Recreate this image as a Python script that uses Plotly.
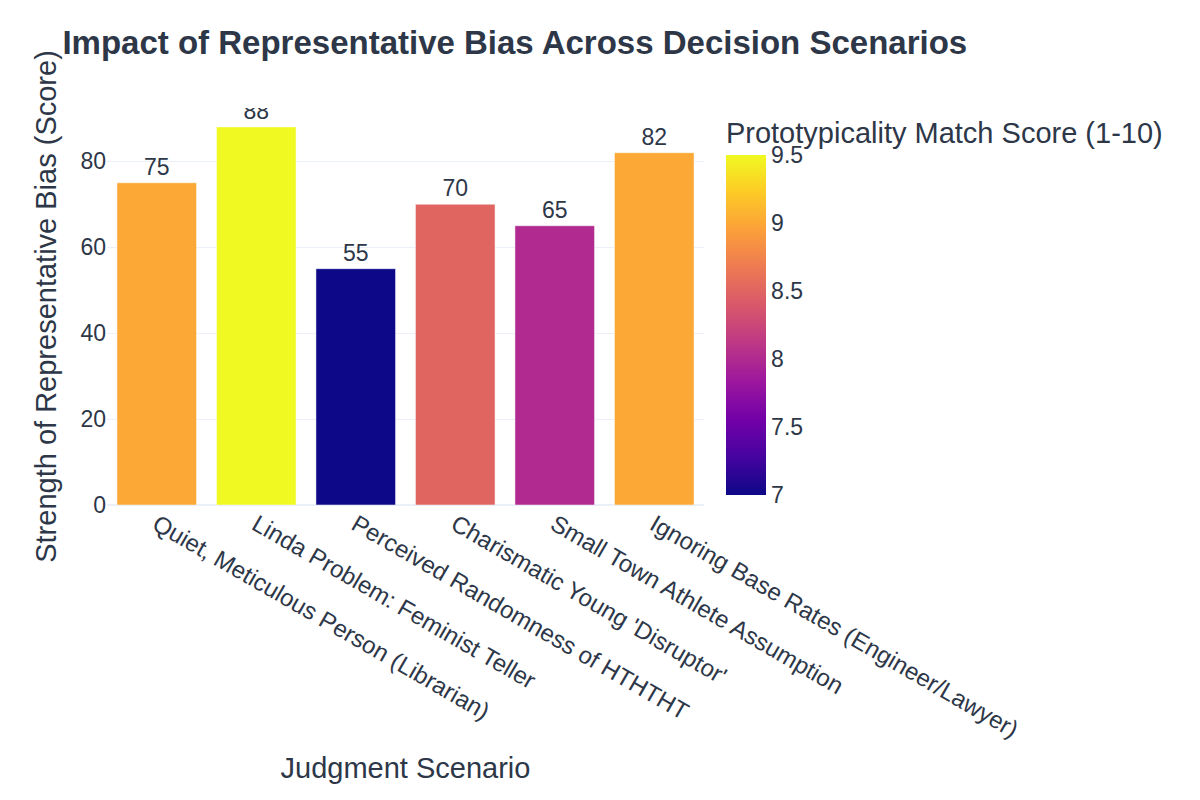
import plotly.graph_objects as go

scenarios = [
    "Quiet, Meticulous Person (Librarian)",
    "Linda Problem: Feminist Teller",
    "Perceived Randomness of HTHTHT",
    "Charismatic Young 'Disruptor'",
    "Small Town Athlete Assumption",
    "Ignoring Base Rates (Engineer/Lawyer)",
]
bias_strength = [75, 88, 55, 70, 65, 82]
prototypicality = [9.0, 9.5, 7.0, 8.5, 8.0, 9.0]

TEXT = "#2d3748"

fig = go.Figure(
    go.Bar(
        x=scenarios,
        y=bias_strength,
        text=bias_strength,
        textposition="outside",
        textfont=dict(size=23, color=TEXT),
        marker=dict(
            color=prototypicality,
            colorscale="Plasma",
            showscale=True,
            colorbar=dict(
                title=dict(text="Prototypicality Match Score (1-10)", side="top",
                           font=dict(size=29, color=TEXT)),
                tickfont=dict(size=23, color=TEXT),
                thickness=40,
                outlinewidth=0,
            ),
        ),
    )
)

fig.update_layout(
    template="plotly_white",
    width=1200,
    height=800,
    font=dict(family="Arial", color=TEXT),
    title=dict(
        text="<b>Impact of Representative Bias Across Decision Scenarios</b>",
        x=0.052, xanchor="left", y=0.947, yanchor="middle",
        font=dict(size=33, color=TEXT),
    ),
    margin=dict(l=107, r=496, t=108, b=295),
    bargap=0.2,
    xaxis=dict(
        title=dict(text="Judgment Scenario", font=dict(size=29, color=TEXT)),
        tickangle=30,
        tickfont=dict(size=24, color=TEXT),
    ),
    yaxis=dict(
        title=dict(text="Strength of Representative Bias (Score)", font=dict(size=29, color=TEXT)),
        range=[0, max(bias_strength) * 1.05],
        tickfont=dict(size=23, color=TEXT),
        dtick=20,
    ),
)

fig.write_html("out.html")
